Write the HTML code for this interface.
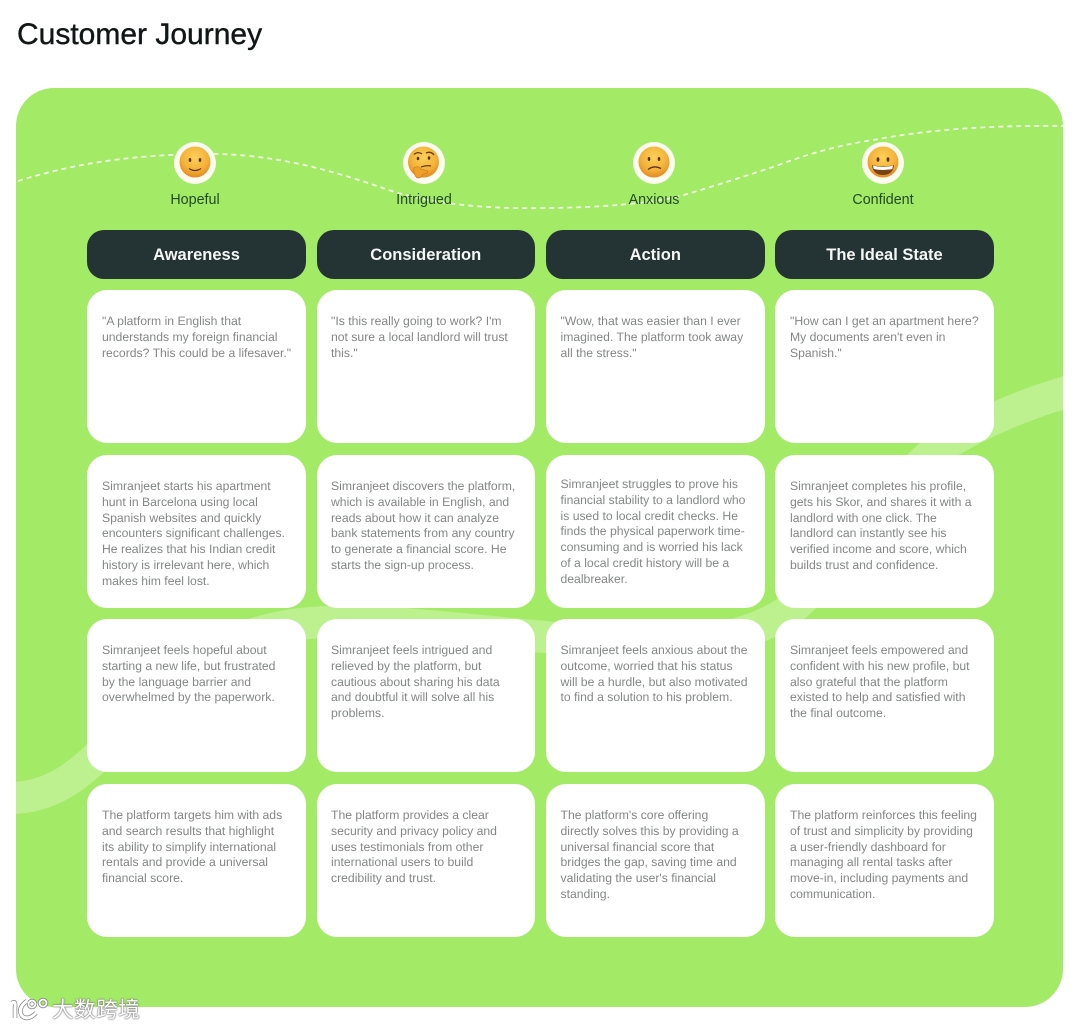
<!DOCTYPE html>
<html><head><meta charset="utf-8"><style>
html,body{margin:0;padding:0;background:#fff}
#p{position:relative;width:1080px;height:1029px;overflow:hidden;background:#fff;font-family:"Liberation Sans","Noto Sans CJK SC",sans-serif}
h1{position:absolute;left:17px;top:16.500px;margin:0;font-size:30px;line-height:36px;font-weight:400;color:#111717;white-space:nowrap;-webkit-text-stroke:.4px #111717;filter:blur(.3px)}
#panel{position:absolute;left:16px;top:88px;width:1047px;height:919px;border-radius:38px;background:#a3ea66;overflow:hidden}
svg{position:absolute;left:0;top:0}
.h{position:absolute;top:230px;width:219px;height:49px;border-radius:17px;background:#243334;color:#f4f6f4;font-size:16.500px;font-weight:700;line-height:50px;text-align:center;white-space:nowrap}
.c{position:absolute;width:219px;height:153px;border-radius:20px;background:#fff;box-sizing:border-box;padding:24px 0 0 15px;color:#858787;font-size:12.200px;line-height:15.800px;white-space:nowrap}
.c span,.c{text-rendering:geometricPrecision}
.l{position:absolute;top:190.500px;width:120px;text-align:center;font-size:14.300px;line-height:18px;color:#234a28;white-space:nowrap}
.x1{left:87px}.x2{left:316.500px;width:218.500px;padding-left:14.500px}.x3{left:546px;width:218.500px;padding-left:14.500px}.x4{left:775px}
.h.x2,.h.x3{padding:0}
.r1{top:290px}.r2{top:455px}.r3{top:619px}.r4{top:784px}
#wm{position:absolute;left:52px;top:996.500px;font-size:21.500px;line-height:26px;color:#fff;letter-spacing:.6px;text-shadow:0 0 2px #777,0 0 1px #777,0 0 1px #777;white-space:nowrap}
</style></head><body><div id="p">
<h1>Customer Journey</h1>
<div id="panel"></div>
<svg width="1080" height="1029" viewBox="0 0 1080 1029">
<defs>
<clipPath id="pc"><rect x="16" y="88" width="1047" height="919" rx="38"/></clipPath>
<radialGradient id="em" cx="50%" cy="35%" r="68%"><stop offset="0" stop-color="#fbd15a"/><stop offset=".6" stop-color="#f4b23a"/><stop offset="1" stop-color="#e2851f"/></radialGradient>
</defs>
<g clip-path="url(#pc)" fill="none">
<path d="M10,798 C62,798 92,762 130,724 C178,676 222,624 330,622 C430,620 520,640 640,642 C700,643 745,640 790,610 C840,570 890,485 938,449 C970,428 1020,405 1070,391" stroke="#bdf08f" stroke-width="32"/>
<path d="M18,181 C70,165 120,156 195,154 C270,152 330,170 383,188 C425,203 480,209 540,208 C600,208 650,203 677,197 C715,186 745,176 773,167 C810,153 840,145 873,140 C920,131 980,125 1063,126" stroke="#f0f8e4" stroke-width="1.800" stroke-dasharray="5 4"/>
</g>
<circle cx="195" cy="163" r="21" fill="#fbfbf0"/>
<circle cx="195" cy="162" r="15.500" fill="url(#em)"/>
<ellipse cx="190" cy="160" rx="1.300" ry="2" fill="#5a3412"/><ellipse cx="200" cy="160" rx="1.300" ry="2" fill="#5a3412"/>
<path d="M189,168.500 Q195,172.500 201,168.500" stroke="#5a3412" stroke-width="1.200" fill="none"/>
<circle cx="424" cy="163" r="21" fill="#fbfbf0"/>
<circle cx="423.500" cy="162" r="15.500" fill="url(#em)"/>
<ellipse cx="418" cy="158.500" rx="1.300" ry="1.800" fill="#5a3412"/><ellipse cx="429" cy="158" rx="1.300" ry="1.800" fill="#5a3412"/>
<path d="M414,154.500 Q418,151 422,154M426,153 Q431,151 434,155" stroke="#6a3d14" stroke-width="1.300" fill="none"/>
<path d="M421,167 Q426,165 431,166" stroke="#5a3412" stroke-width="1.200" fill="none"/>
<path d="M414,168 Q418,165 421,169 L428,171 Q428,174 423,174 Q422,178 417,178 Q413,174 414,168Z" fill="#eea029" stroke="#c9771a" stroke-width=".6"/>
<circle cx="654" cy="163" r="21" fill="#fbfbf0"/>
<circle cx="654" cy="162" r="15.500" fill="url(#em)"/>
<ellipse cx="649" cy="159" rx="1.300" ry="2" fill="#5a3412"/><ellipse cx="659" cy="159" rx="1.300" ry="2" fill="#5a3412"/>
<path d="M648,169.500 Q654,165 661,168.500" stroke="#5a3412" stroke-width="1.300" fill="none"/>
<circle cx="883" cy="163" r="21" fill="#fbfbf0"/>
<circle cx="883" cy="162" r="15.500" fill="url(#em)"/>
<ellipse cx="878" cy="159.500" rx="1.400" ry="2.300" fill="#5a3412"/><ellipse cx="888" cy="159.500" rx="1.400" ry="2.300" fill="#5a3412"/>
<path d="M872,165 Q883,168 894,165 Q893,175 883,175 Q873,175 872,165Z" fill="#7a4214"/>
<path d="M873,165.500 Q883,168.500 893,165.500 L892.300,169 Q883,171 873.700,169Z" fill="#fff"/>
<g fill="none" stroke="#8a8a8a" stroke-width="4.500">
<path d="M12,1003 Q16,1000 15,1008 L15,1018"/>
<path d="M27,1001 Q17,1008 22,1016 Q28,1021 36,1013"/>
<circle cx="32" cy="1004" r="3.500" stroke-width="3.500"/>
<circle cx="43" cy="1003" r="3.500" stroke-width="3.500"/>
</g>
<g fill="none" stroke="#fff" stroke-width="3">
<path d="M12,1003 Q16,1000 15,1008 L15,1018"/>
<path d="M27,1001 Q17,1008 22,1016 Q28,1021 36,1013"/>
<circle cx="32" cy="1004" r="3.500" stroke-width="1.800"/>
<circle cx="43" cy="1003" r="3.500" stroke-width="1.800"/>
</g>
</svg>
<div class="l" style="left:135px">Hopeful</div>
<div class="l" style="left:364px">Intrigued</div>
<div class="l" style="left:594px">Anxious</div>
<div class="l" style="left:823px">Confident</div>
<div class="h x1">Awareness</div>
<div class="h x2">Consideration</div>
<div class="h x3">Action</div>
<div class="h x4">The Ideal State</div>

<div class="c x1 r1">"A platform in English that<br>understands my foreign financial<br>records? This could be a lifesaver."</div>
<div class="c x2 r1">"Is this really going to work? I'm<br>not sure a local landlord will trust<br>this."</div>
<div class="c x3 r1">"Wow, that was easier than I ever<br>imagined. The platform took away<br>all the stress."</div>
<div class="c x4 r1">"How can I get an apartment here?<br>My documents aren't even in<br>Spanish."</div>

<div class="c x1 r2">Simranjeet starts his apartment<br>hunt in Barcelona using local<br>Spanish websites and quickly<br>encounters significant challenges.<br>He realizes that his Indian credit<br>history is irrelevant here, which<br>makes him feel lost.</div>
<div class="c x2 r2">Simranjeet discovers the platform,<br>which is available in English, and<br>reads about how it can analyze<br>bank statements from any country<br>to generate a financial score. He<br>starts the sign-up process.</div>
<div class="c x3 r2" style="padding-top:22px">Simranjeet struggles to prove his<br>financial stability to a landlord who<br>is used to local credit checks. He<br>finds the physical paperwork time-<br>consuming and is worried his lack<br>of a local credit history will be a<br>dealbreaker.</div>
<div class="c x4 r2">Simranjeet completes his profile,<br>gets his Skor, and shares it with a<br>landlord with one click. The<br>landlord can instantly see his<br>verified income and score, which<br>builds trust and confidence.</div>

<div class="c x1 r3">Simranjeet feels hopeful about<br>starting a new life, but frustrated<br>by the language barrier and<br>overwhelmed by the paperwork.</div>
<div class="c x2 r3">Simranjeet feels intrigued and<br>relieved by the platform, but<br>cautious about sharing his data<br>and doubtful it will solve all his<br>problems.</div>
<div class="c x3 r3">Simranjeet feels anxious about the<br>outcome, worried that his status<br>will be a hurdle, but also motivated<br>to find a solution to his problem.</div>
<div class="c x4 r3">Simranjeet feels empowered and<br>confident with his new profile, but<br>also grateful that the platform<br>existed to help and satisfied with<br>the final outcome.</div>

<div class="c x1 r4">The platform targets him with ads<br>and search results that highlight<br>its ability to simplify international<br>rentals and provide a universal<br>financial score.</div>
<div class="c x2 r4">The platform provides a clear<br>security and privacy policy and<br>uses testimonials from other<br>international users to build<br>credibility and trust.</div>
<div class="c x3 r4">The platform's core offering<br>directly solves this by providing a<br>universal financial score that<br>bridges the gap, saving time and<br>validating the user's financial<br>standing.</div>
<div class="c x4 r4">The platform reinforces this feeling<br>of trust and simplicity by providing<br>a user-friendly dashboard for<br>managing all rental tasks after<br>move-in, including payments and<br>communication.</div>
<div id="wm">大数跨境</div>
</div></body></html>
